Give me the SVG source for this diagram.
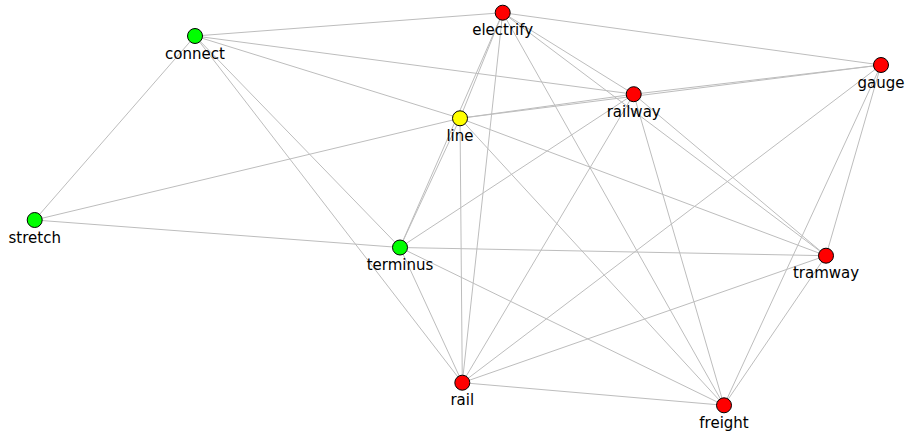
<svg xmlns="http://www.w3.org/2000/svg" width="906" height="434" viewBox="0 0 906 434">
  <style>
    .edge { stroke: #bdbdbd; stroke-width: 1; fill: none; }
    .node circle { stroke: #000; stroke-width: 1; }
    .red { fill: #ff0000; }
    .green { fill: #00ff00; }
    .yellow { fill: #ffff00; }
    .node text { font-family: "DejaVu Sans", sans-serif; font-size: 15px; fill: #000; text-anchor: middle; }
  </style>
  <rect width="906" height="434" fill="#fff"/>
  <g id="edges">
    <!-- connect -->
    <line class="edge" x1="195" y1="36" x2="502.7" y2="12.7"/>
    <line class="edge" x1="195" y1="36" x2="633.7" y2="94.2"/>
    <line class="edge" x1="195" y1="36" x2="460" y2="118.3"/>
    <line class="edge" x1="195" y1="36" x2="400" y2="247.5"/>
    <line class="edge" x1="195" y1="36" x2="462.3" y2="382.7"/>
    <line class="edge" x1="195" y1="36" x2="34.7" y2="220"/>
    <!-- electrify -->
    <line class="edge" x1="502.7" y1="12.7" x2="881" y2="65"/>
    <line class="edge" x1="502.7" y1="12.7" x2="460" y2="118.3"/>
    <line class="edge" x1="502.7" y1="12.7" x2="400" y2="247.5"/>
    <line class="edge" x1="502.7" y1="12.7" x2="462.3" y2="382.7"/>
    <line class="edge" x1="502.7" y1="12.7" x2="724" y2="405.3"/>
    <line class="edge" x1="502.7" y1="12.7" x2="633.7" y2="94.2"/>
    <line class="edge" x1="502.7" y1="12.7" x2="826" y2="255.7"/>
    <!-- line -->
    <line class="edge" x1="460" y1="118.3" x2="633.7" y2="94.2"/>
    <line class="edge" x1="460" y1="118.3" x2="881" y2="65"/>
    <line class="edge" x1="460" y1="118.3" x2="34.7" y2="220"/>
    <line class="edge" x1="460" y1="118.3" x2="400" y2="247.5"/>
    <line class="edge" x1="460" y1="118.3" x2="462.3" y2="382.7"/>
    <line class="edge" x1="460" y1="118.3" x2="724" y2="405.3"/>
    <line class="edge" x1="460" y1="118.3" x2="826" y2="255.7"/>
    <!-- railway -->
    <line class="edge" x1="633.7" y1="94.2" x2="881" y2="65"/>
    <line class="edge" x1="633.7" y1="94.2" x2="400" y2="247.5"/>
    <line class="edge" x1="633.7" y1="94.2" x2="462.3" y2="382.7"/>
    <line class="edge" x1="633.7" y1="94.2" x2="724" y2="405.3"/>
    <line class="edge" x1="633.7" y1="94.2" x2="826" y2="255.7"/>
    <!-- gauge -->
    <line class="edge" x1="881" y1="65" x2="462.3" y2="382.7"/>
    <line class="edge" x1="881" y1="65" x2="826" y2="255.7"/>
    <line class="edge" x1="881" y1="65" x2="724" y2="405.3"/>
    <!-- terminus -->
    <line class="edge" x1="400" y1="247.5" x2="34.7" y2="220"/>
    <line class="edge" x1="400" y1="247.5" x2="826" y2="255.7"/>
    <line class="edge" x1="400" y1="247.5" x2="462.3" y2="382.7"/>
    <line class="edge" x1="400" y1="247.5" x2="724" y2="405.3"/>
    <!-- tramway, rail -->
    <line class="edge" x1="826" y1="255.7" x2="462.3" y2="382.7"/>
    <line class="edge" x1="826" y1="255.7" x2="724" y2="405.3"/>
    <line class="edge" x1="462.3" y1="382.7" x2="724" y2="405.3"/>
  </g>
  <g id="electrify" class="node"><circle class="red" cx="502.7" cy="12.7" r="7.5"/><text x="502.7" y="35">electrify</text></g>
  <g id="connect" class="node"><circle class="green" cx="195" cy="36" r="7.5"/><text x="195" y="58.5">connect</text></g>
  <g id="gauge" class="node"><circle class="red" cx="881" cy="65" r="7.5"/><text x="881" y="87.5">gauge</text></g>
  <g id="railway" class="node"><circle class="red" cx="633.7" cy="94.2" r="7.5"/><text x="633.7" y="116.7">railway</text></g>
  <g id="line" class="node"><circle class="yellow" cx="460" cy="118.3" r="7.5"/><text x="460" y="140.8">line</text></g>
  <g id="stretch" class="node"><circle class="green" cx="34.7" cy="220" r="7.5"/><text x="34.7" y="242.5">stretch</text></g>
  <g id="terminus" class="node"><circle class="green" cx="400" cy="247.5" r="7.5"/><text x="400" y="270">terminus</text></g>
  <g id="tramway" class="node"><circle class="red" cx="826" cy="255.7" r="7.5"/><text x="826" y="278.2">tramway</text></g>
  <g id="rail" class="node"><circle class="red" cx="462.3" cy="382.7" r="7.5"/><text x="462.3" y="405.2">rail</text></g>
  <g id="freight" class="node"><circle class="red" cx="724" cy="405.3" r="7.5"/><text x="724" y="427.8">freight</text></g>
</svg>
